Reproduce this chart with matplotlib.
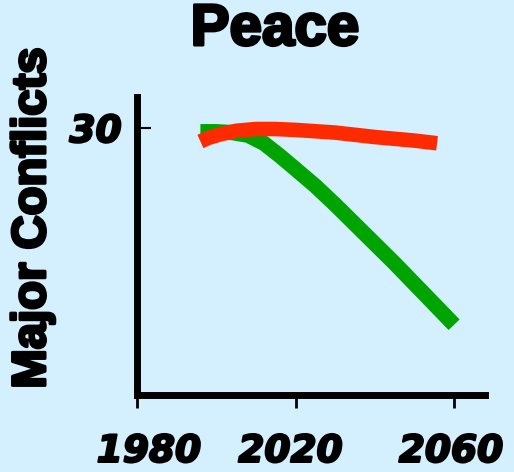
import numpy as np
import matplotlib.pyplot as plt
import matplotlib.patheffects as pe
from matplotlib.transforms import ScaledTranslation

# values
years_green = [1996, 2000, 2004, 2008, 2012, 2016, 2020, 2025, 2030, 2035, 2040, 2045, 2050, 2055, 2060]
conflicts_green = [29.6, 29.6, 29.5, 29.2, 28.3, 26.9, 25.4, 23.5, 21.4, 19.2, 17.0, 14.8, 12.5, 10.2, 7.9]

years_red = [1996, 1998, 2001, 2005, 2010, 2015, 2020, 2030, 2040, 2050, 2055.7]
conflicts_red = [28.5, 28.9, 29.3, 29.7, 29.9, 29.9, 29.8, 29.5, 29.0, 28.6, 28.3]

x_ticks = [1980, 2020, 2060]
y_ticks = [30]

bg = '#D4EFFE'
my_dpi = 100
fig = plt.figure(figsize=(514/my_dpi, 472/my_dpi), dpi=my_dpi, facecolor=bg)
ax = fig.add_axes([137/514, 1 - 395/472, (485 - 137)/514, (395 - 97)/472])
ax.set_facecolor(bg)

ax.plot(years_green, conflicts_green, color='#00A400', lw=11,
        solid_capstyle='butt', solid_joinstyle='round')
ax.plot(years_red, conflicts_red, color='#FF2A00', lw=10.5,
        solid_capstyle='butt', solid_joinstyle='round')

ax.set_xlim(1980, 2067.8)
ax.set_ylim(0, 33.5)

for side in ['top', 'right']:
    ax.spines[side].set_visible(False)
for side in ['left', 'bottom']:
    ax.spines[side].set_linewidth(5)
    ax.spines[side].set_capstyle('projecting')

ax.set_xticks(x_ticks)
ax.set_yticks(y_ticks)
ax.tick_params(axis='x', direction='out', length=9, width=2, pad=19)
ax.tick_params(axis='y', direction='in', length=10, width=1.5, pad=11)

heavy = [pe.withStroke(linewidth=1.6, foreground='black')]
tick_font = dict(family='DejaVu Sans', weight='bold', style='italic', size=27)
ax.set_xticklabels([str(t) for t in x_ticks], **tick_font)
ax.set_yticklabels([str(t) for t in y_ticks], **tick_font)
for lbl in ax.get_xticklabels() + ax.get_yticklabels():
    lbl.set_path_effects(heavy)

# nudge the x labels like in the reference
shifts = [12, -5, -3]
for lbl, dx in zip(ax.get_xticklabels(), shifts):
    lbl.set_transform(lbl.get_transform() + ScaledTranslation(dx/my_dpi, 0, fig.dpi_scale_trans))

fig.text(33/514, 1 - 218/472, 'Major Conflicts', rotation=90, ha='center', va='center',
         family='Liberation Sans', weight='bold', size=34, path_effects=[pe.withStroke(linewidth=2.2, foreground='black')])
fig.text(275/514, 1 - 30/472, 'Peace', ha='center', va='center',
         family='Liberation Sans', weight='bold', size=42, path_effects=[pe.withStroke(linewidth=2.2, foreground='black')])

fig.savefig('out.png', dpi=my_dpi, facecolor=bg)
